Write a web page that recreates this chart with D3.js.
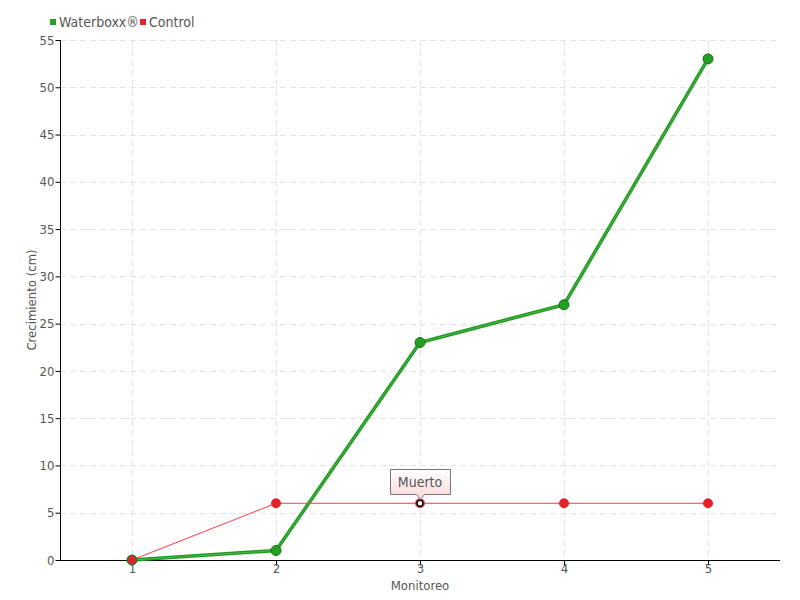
<!DOCTYPE html>
<html><head><meta charset="utf-8">
<script src="https://cdn.jsdelivr.net/npm/d3@7"></script>
<style>
body{margin:0;background:#fff;}
text{font-family:"DejaVu Sans Condensed","DejaVu Sans",sans-serif;}
</style></head>
<body>
<svg id="c" width="800" height="600"></svg>
<script>
const categories = ["1","2","3","4","5"];
const waterboxx = [0, 1, 23, 27, 53];
const control = [0, 6, 6, 6, 6];
const yTicks = [0,5,10,15,20,25,30,35,40,45,50,55];
const seriesNames = ["Waterboxx®","Control"];
const annotation = {index: 2, label: "Muerto"};

const svg = d3.select("#c");
const L=60, R=780, T=40, B=560;
const x = d3.scalePoint().domain(categories).range([L,R]).padding(0.5);
const y = d3.scaleLinear().domain([0,55]).range([B,T]);

const defs = svg.append("defs");
const g1 = defs.append("linearGradient").attr("id","tip").attr("x1",0).attr("y1",0).attr("x2",0).attr("y2",1);
g1.append("stop").attr("offset","0%").attr("stop-color","#ffffff");
g1.append("stop").attr("offset","100%").attr("stop-color","#fbd6d8");

// grid
svg.append("g").selectAll("line").data(yTicks.filter(d=>d>0)).join("line")
  .attr("x1",L).attr("x2",R).attr("y1",d=>Math.round(y(d))+0.5).attr("y2",d=>Math.round(y(d))+0.5)
  .attr("stroke","#e2e2e2").attr("stroke-dasharray","6,4");
svg.append("g").selectAll("line").data(categories).join("line")
  .attr("y1",T).attr("y2",B).attr("x1",d=>x(d)+0.5).attr("x2",d=>x(d)+0.5)
  .attr("stroke","#e2e2e2").attr("stroke-dasharray","6,4");

// axes
const yAxis = svg.append("g").attr("transform",`translate(${L+0.5},0)`)
  .call(d3.axisLeft(y).tickValues(yTicks).tickSize(5).tickSizeOuter(0));
const xAxis = svg.append("g").attr("transform",`translate(0,${B+0.5})`)
  .call(d3.axisBottom(x).tickSize(5).tickSizeOuter(0));
[yAxis,xAxis].forEach(a=>{
  a.select(".domain").attr("stroke","#000");
  a.selectAll(".tick line").attr("stroke","#000");
  a.selectAll(".tick text").attr("fill","#555").style("font-size","13px");
});
yAxis.select(".domain").attr("d",`M0,${T}V${B}`);
xAxis.select(".domain").attr("d",`M${L},0H${R}`);
yAxis.selectAll(".tick text").attr("x",-6);
xAxis.selectAll(".tick text").attr("y",3).attr("dy","0.71em");

// titles
svg.append("text").attr("x",(L+R)/2).attr("y",590).attr("text-anchor","middle")
  .attr("fill","#555").style("font-size","13px").text("Monitoreo");
svg.append("text").attr("transform",`translate(36,${(T+B)/2}) rotate(-90)`).attr("text-anchor","middle")
  .attr("fill","#555").style("font-size","13px").text("Crecimiento (cm)");

// lines
const line = d3.line().x((d,i)=>x(categories[i])).y(d=>y(d));
svg.append("path").datum(waterboxx).attr("d",line).attr("fill","none")
  .attr("stroke","#1f9a1f").attr("stroke-width",3.5).attr("stroke-linejoin","round");
svg.append("path").datum(waterboxx).attr("d",line).attr("fill","none")
  .attr("stroke","#7ed07e").attr("stroke-width",0.8).attr("opacity",0.6);
svg.append("path").datum(control).attr("d",line).attr("fill","none")
  .attr("stroke","#ff3a4a").attr("stroke-width",1);

// points
svg.append("g").selectAll("circle").data(waterboxx).join("circle")
  .attr("cx",(d,i)=>x(categories[i])).attr("cy",d=>y(d)).attr("r",5)
  .attr("fill","#22a022").attr("stroke","#1a6e1a").attr("stroke-width",1);
svg.append("g").selectAll("circle").data(control.map((v,i)=>({v,i})).filter(d=>d.i!==annotation.index)).join("circle")
  .attr("cx",d=>x(categories[d.i])).attr("cy",d=>y(d.v)).attr("r",4.5)
  .attr("fill","#e8202a")
  .attr("stroke",d=>d.i===0?"#2f7a2f":"#e8202a").attr("stroke-width",1);
// annotated point
const ax = x(categories[annotation.index]), ay = y(control[annotation.index]);
svg.append("circle").attr("cx",ax).attr("cy",ay).attr("r",5).attr("fill","#e8202a").attr("opacity",0.85);
svg.append("circle").attr("cx",ax).attr("cy",ay).attr("r",3).attr("fill","#fff").attr("stroke","#000").attr("stroke-width",1.5);

// tooltip
const tw=60, th=25, ty=Math.round(ay)-34, tx=Math.round(ax)-30;
svg.append("path")
  .attr("d",`M${tx+0.5},${ty+0.5}h${tw}v${th}h-${tw/2-4}l-4,5l-4,-5h-${tw/2-4}z`)
  .attr("fill","url(#tip)").attr("stroke","#777").attr("stroke-width",1);
svg.append("text").attr("x",ax).attr("y",ty+18).attr("text-anchor","middle")
  .attr("fill","#555").style("font-size","14px").text(annotation.label);

// legend
const leg = svg.append("g");
const colors=["#22a022","#e8202a"];
const lx=[50,140];
seriesNames.forEach((n,i)=>{
  leg.append("rect").attr("x",lx[i]).attr("y",19).attr("width",6).attr("height",6).attr("fill",colors[i]);
  leg.append("text").attr("x",lx[i]+9).attr("y",27).attr("fill","#555").style("font-size","14px").text(n);
});
</script>
</body></html>
